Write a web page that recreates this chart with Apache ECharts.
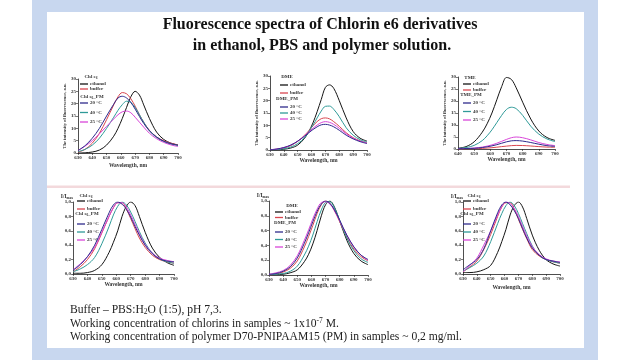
<!DOCTYPE html>
<html><head><meta charset="utf-8">
<script src="https://cdn.jsdelivr.net/npm/echarts@6/dist/echarts.min.js"></script>
<style>html,body{margin:0;padding:0;background:#fff}#c{width:640px;height:360px}</style>
</head><body><div id="c"></div>
<script>
// ---------- data ----------
const wl    = [630,635,640,645,650,655,658,661,664,667,670,673,676,680,685,690,695,700];
const wlTME = [640,645,650,655,658,661,664,667,670,673,676,680,685,690,695,700];

// Chart 1: Chl e6 (a.u.)
const chlEthanol = [0,0.1,0.4,1.2,3.2,6.8,10,14,18.5,22.8,25,23.5,19.5,14,8.5,5.5,4,3.2];
const chlBuffer  = [0.3,1.5,4,8,13.5,19.5,22.8,24.5,24,22,19,15.5,12.5,9.2,6.5,5,4,3.3];
const chlPM20    = [1,3,6,10,15,19.8,22.3,23,22.3,20.5,17.8,14.8,12,9,6.5,4.8,3.8,3.2];
const chlPM40    = [0.5,1.5,3.2,6,10,14.5,17.3,19.6,21,20.5,18.5,15.5,12.5,9,6.3,4.6,3.6,3];
const chlPM25    = [1,2.8,5,7.8,10.8,13.8,15.5,16.7,17,16.3,14.5,12.5,10.5,8,5.8,4.3,3.3,2.6];

// Chart 2: DME (a.u.)
const dmeEthanol = [0,0.1,0.3,0.8,2,4.8,7.5,11,15.5,20.5,25.4,26.4,25,20,13,7.5,4.8,3.6];
const dmeBuffer  = [0.1,0.3,0.8,1.8,3.5,6,7.8,9.8,11.5,12.7,13,12.6,11.5,9.6,7,5,3.7,2.9];
const dmePM20    = [0.1,0.4,1,2,3.6,5.6,7,8.3,9.4,10.2,10.4,10.1,9.4,8,6,4.5,3.4,2.6];
const dmePM40    = [0,0.2,0.5,1.2,2.6,5,7.5,10,13,15.8,17.7,17.8,16.5,13.5,9,6,4.2,3.2];
const dmePM25    = [0.1,0.4,1,2,3.6,5.8,7.3,8.8,10.1,11.1,11.5,11.2,10.4,8.8,6.6,4.8,3.6,2.8];

// Chart 3: TME (a.u.), 640-700 nm
const tmeEthanol = [0.3,1,3,7,10.5,15,20.5,26,29.8,29,25.5,19.5,12.5,7.5,4.8,3.6];
const tmeBuffer  = [0,0.05,0.1,0.25,0.4,0.55,0.75,1,1.2,1.4,1.5,1.45,1.25,1,0.8,0.7];
const tmePM20    = [0.1,0.2,0.3,0.6,0.9,1.3,1.8,2.4,3,3.4,3.5,3.3,2.7,2,1.4,1.1];
const tmePM40    = [0.2,0.6,1.5,3.5,5.5,8,11,14,16.5,17.4,16.8,14,9.5,6.2,4.2,3.1];
const tmePM25    = [0.1,0.2,0.4,0.8,1.2,1.7,2.4,3.2,4,4.7,5,4.7,3.8,2.7,1.9,1.4];

// Chart 4: Chl e6 normalized
const nChlEthanol = [0.01,0.01,0.02,0.05,0.13,0.3,0.44,0.6,0.8,0.94,1.0,0.95,0.8,0.58,0.36,0.23,0.16,0.12];
const nChlBuffer  = [0.03,0.1,0.2,0.35,0.57,0.8,0.92,0.99,0.99,0.9,0.77,0.63,0.5,0.37,0.26,0.2,0.17,0.15];
const nChlPM20    = [0.05,0.13,0.24,0.4,0.62,0.85,0.96,1.0,0.97,0.9,0.79,0.66,0.54,0.4,0.28,0.21,0.18,0.17];
const nChlPM40    = [0.03,0.07,0.13,0.23,0.42,0.66,0.82,0.94,1.0,0.96,0.86,0.73,0.59,0.43,0.29,0.21,0.17,0.15];
const nChlPM25    = [0.06,0.14,0.24,0.37,0.58,0.8,0.92,0.99,0.99,0.93,0.82,0.69,0.56,0.41,0.29,0.22,0.19,0.17];

// Chart 5: DME normalized
const nDmeEthanol = [0,0.005,0.01,0.03,0.07,0.18,0.28,0.42,0.6,0.8,0.95,1.0,0.93,0.73,0.47,0.29,0.19,0.14];
const nDmeBuffer  = [0,0.01,0.04,0.09,0.19,0.38,0.52,0.67,0.83,0.95,1.0,0.97,0.88,0.72,0.51,0.35,0.25,0.19];
const nDmePM20    = [0.01,0.02,0.05,0.11,0.23,0.43,0.57,0.72,0.86,0.96,1.0,0.97,0.89,0.74,0.54,0.38,0.27,0.21];
const nDmePM40    = [0,0.01,0.02,0.05,0.12,0.27,0.39,0.54,0.72,0.88,0.98,0.99,0.92,0.74,0.5,0.33,0.22,0.17];
const nDmePM25    = [0.01,0.03,0.06,0.13,0.26,0.47,0.61,0.76,0.89,0.98,0.99,0.96,0.88,0.73,0.54,0.38,0.27,0.2];

// Chart 6: normalized (legend as in picture)
const n3Ethanol = [0.02,0.02,0.03,0.06,0.12,0.3,0.45,0.62,0.82,0.95,1.0,0.93,0.77,0.54,0.33,0.2,0.14,0.11];
const n3Buffer  = [0.03,0.1,0.18,0.34,0.55,0.8,0.93,0.99,0.99,0.9,0.76,0.62,0.49,0.34,0.25,0.2,0.17,0.15];
const n3PM20    = [0.06,0.13,0.2,0.35,0.6,0.85,0.96,1.0,0.96,0.88,0.77,0.63,0.5,0.36,0.26,0.2,0.18,0.16];
const n3PM40    = [0.04,0.09,0.15,0.25,0.45,0.7,0.84,0.95,1.0,0.95,0.84,0.7,0.56,0.39,0.26,0.2,0.17,0.15];
const n3PM25    = [0.03,0.12,0.22,0.4,0.6,0.82,0.94,1.0,0.98,0.91,0.8,0.66,0.53,0.38,0.27,0.21,0.18,0.17];

const seriesNames = ['ethanol','buffer','20 °C','40 °C','25 °C'];
const yTicksAbs = [0,5,10,15,20,25,30];
const yTicksNorm = ['0,0','0,2','0,4','0,6','0,8','1,0'];

// ---------- layout ----------
const colors = {'ethanol':'#151515','buffer':'#d9464f','20 °C':'#2f2a8c','40 °C':'#2f9a98','25 °C':'#d846d8'};
const FF = '"Liberation Serif","DejaVu Serif",serif';
const grids = [
  {left:78, top:79, width:100, height:74},
  {left:270,top:76, width:97, height:74},
  {left:458,top:77, width:97, height:72},
  {left:73, top:202,width:101,height:72},
  {left:269,top:201,width:99, height:74},
  {left:463,top:202,width:97, height:72}
];
const chartData = [
  {xs:wl,    ys:[chlEthanol,chlBuffer,chlPM20,chlPM40,chlPM25], min:630, norm:false},
  {xs:wl,    ys:[dmeEthanol,dmeBuffer,dmePM20,dmePM40,dmePM25], min:630, norm:false},
  {xs:wlTME, ys:[tmeEthanol,tmeBuffer,tmePM20,tmePM40,tmePM25], min:640, norm:false},
  {xs:wl,    ys:[nChlEthanol,nChlBuffer,nChlPM20,nChlPM40,nChlPM25], min:630, norm:true},
  {xs:wl,    ys:[nDmeEthanol,nDmeBuffer,nDmePM20,nDmePM40,nDmePM25], min:630, norm:true},
  {xs:wl,    ys:[n3Ethanol,n3Buffer,n3PM20,n3PM40,n3PM25], min:630, norm:true}
];

const axisLine = {lineStyle:{color:'#222',width:0.8}};
const axisTick = {length:2,lineStyle:{color:'#222',width:0.6}};
const lbl = {fontSize:5,fontFamily:FF,fontWeight:'bold',color:'#333',margin:2};

const xAxis = [], yAxis = [], series = [];
chartData.forEach((c,i)=>{
  xAxis.push({type:'value',gridIndex:i,min:c.min,max:700,interval:10,
    axisLine,axisTick,splitLine:{show:false},axisLabel:lbl,
    name:'Wavelength, nm',nameLocation:'middle',nameGap:[10,8,8,8,8,11][i],
    nameTextStyle:{fontSize:5.5,fontFamily:FF,fontWeight:'bold',color:'#333'}});
  if(!c.norm){
    yAxis.push({type:'value',gridIndex:i,min:0,max:30,interval:5,
      axisLine:{show:true,...axisLine},axisTick:{show:true,...axisTick},splitLine:{show:false},
      axisLabel:{...lbl,formatter:v=>String(yTicksAbs[Math.round(v/5)])},
      name:'The intensity of fluorescence, a.u.',nameLocation:'middle',nameGap:7,nameRotate:90,
      nameTextStyle:{fontSize:4.6,fontFamily:FF,fontWeight:'bold',color:'#333'}});
  } else {
    yAxis.push({type:'value',gridIndex:i,min:0,max:1,interval:0.2,
      axisLine:{show:true,...axisLine},axisTick:{show:true,...axisTick},splitLine:{show:false},
      axisLabel:{...lbl,formatter:v=>yTicksNorm[Math.round(v/0.2)]},
      name:'I/I{s|max}',nameLocation:'end',nameGap:2,
      nameTextStyle:{fontSize:5.5,fontFamily:FF,fontWeight:'bold',color:'#333',align:'right',padding:[0,0,0,0],
        rich:{s:{fontSize:3.5,fontFamily:FF,fontWeight:'bold',color:'#333',padding:[3,0,0,0]}}}});
  }
  seriesNames.forEach((n,k)=>{
    series.push({type:'line',name:n,xAxisIndex:i,yAxisIndex:i,smooth:0.35,symbol:'none',
      data:c.xs.map((x,j)=>[x,c.ys[k][j]]),
      lineStyle:{width:1,color:colors[n]},itemStyle:{color:colors[n]},z:[1,2,5,3,4][k]});
  });
});

// legends: [left, topA, gapA, topB, gapB]
const legPos = [
  [80,81.5,0,100.5,4.5],
  [280,82.5,3,104.5,1],
  [463,81.5,1,100.5,3.5],
  [77,198.5,3,221.5,3],
  [275,209.5,0.5,229.5,2.5],
  [463,198.5,3,221.5,3]
];
const legTxt = {fontSize:5,fontFamily:FF,fontWeight:'bold',color:'#333',lineHeight:5,padding:[0,0,0,-3]};
const legend = [];
legPos.forEach(p=>{
  legend.push({data:['ethanol','buffer'],orient:'vertical',left:p[0],top:p[1],itemGap:p[2],padding:0,
    icon:'rect',itemWidth:8,itemHeight:1.3,textStyle:legTxt,selectedMode:false});
  legend.push({data:['20 °C','40 °C','25 °C'],orient:'vertical',left:p[0],top:p[3],itemGap:p[4],padding:0,
    icon:'rect',itemWidth:8,itemHeight:1.3,textStyle:legTxt,selectedMode:false});
});

// legend headers
const headers = [
  ['Chl e{s|6}',91,77],['Chl e{s|6}_PM',92,97],
  ['DME',287,77],['DME_PM',287,99],
  ['TME',470,78],['TME_PM',471,95],
  ['Chl e{s|6}',86,196],['Chl e{s|6}_PM',87,214],
  ['DME',292,206],['DME_PM',285,223],
  ['Chl e{s|6}',474,196],['Chl e{s|6}_PM',472,214]
];
const frame = '#c8d7ef';
const graphic = [
  {type:'rect',shape:{x:32,y:0,width:15,height:360},style:{fill:frame},z:-10},
  {type:'rect',shape:{x:584,y:0,width:14,height:360},style:{fill:frame},z:-10},
  {type:'rect',shape:{x:32,y:0,width:566,height:12},style:{fill:frame},z:-10},
  {type:'rect',shape:{x:32,y:348,width:566,height:12},style:{fill:frame},z:-10},
  {type:'rect',shape:{x:47,y:185.5,width:523,height:2.5},style:{fill:'#f3d9dc'},z:-10},
  {type:'text',x:320,y:25,style:{text:'Fluorescence spectra of Chlorin e6 derivatives',fontSize:16,fontFamily:FF,fontWeight:'bold',fill:'#111',align:'center',verticalAlign:'middle'}},
  {type:'text',x:322,y:46,style:{text:'in ethanol, PBS and polymer solution.',fontSize:16,fontFamily:FF,fontWeight:'bold',fill:'#111',align:'center',verticalAlign:'middle'}},
  {type:'text',x:70,y:310,style:{text:'Buffer – PBS:H{s|2}O (1:5), pH 7,3.',fontSize:11.6,fontFamily:FF,fill:'#222',align:'left',verticalAlign:'middle',
    rich:{s:{fontSize:7.5,fontFamily:FF,fill:'#222',padding:[5,0,0,0]}}}},
  {type:'text',x:70,y:323.5,style:{text:'Working concentration of chlorins in samples ~ 1x10{p|-7} M.',fontSize:11.6,fontFamily:FF,fill:'#222',align:'left',verticalAlign:'middle',
    rich:{p:{fontSize:7.5,fontFamily:FF,fill:'#222',padding:[0,0,5,0]}}}},
  {type:'text',x:70,y:337,style:{text:'Working concentration of polymer D70-PNIPAAM15 (PM) in samples ~ 0,2 mg/ml.',fontSize:11.6,fontFamily:FF,fill:'#222',align:'left',verticalAlign:'middle'}}
];
headers.forEach(h=>{
  graphic.push({type:'text',x:h[1],y:h[2],style:{text:h[0],fontSize:5,fontFamily:FF,fontWeight:'bold',fill:'#333',align:'center',verticalAlign:'middle',
    rich:{s:{fontSize:3.5,fontFamily:FF,fontWeight:'bold',fill:'#333',padding:[2,0,0,0]}}}});
});

const chart = echarts.init(document.getElementById('c'),null,{renderer:'canvas'});
chart.setOption({
  animation:false,
  backgroundColor:'#fff',
  grid:grids,xAxis,yAxis,series,legend,graphic
});
</script></body></html>
